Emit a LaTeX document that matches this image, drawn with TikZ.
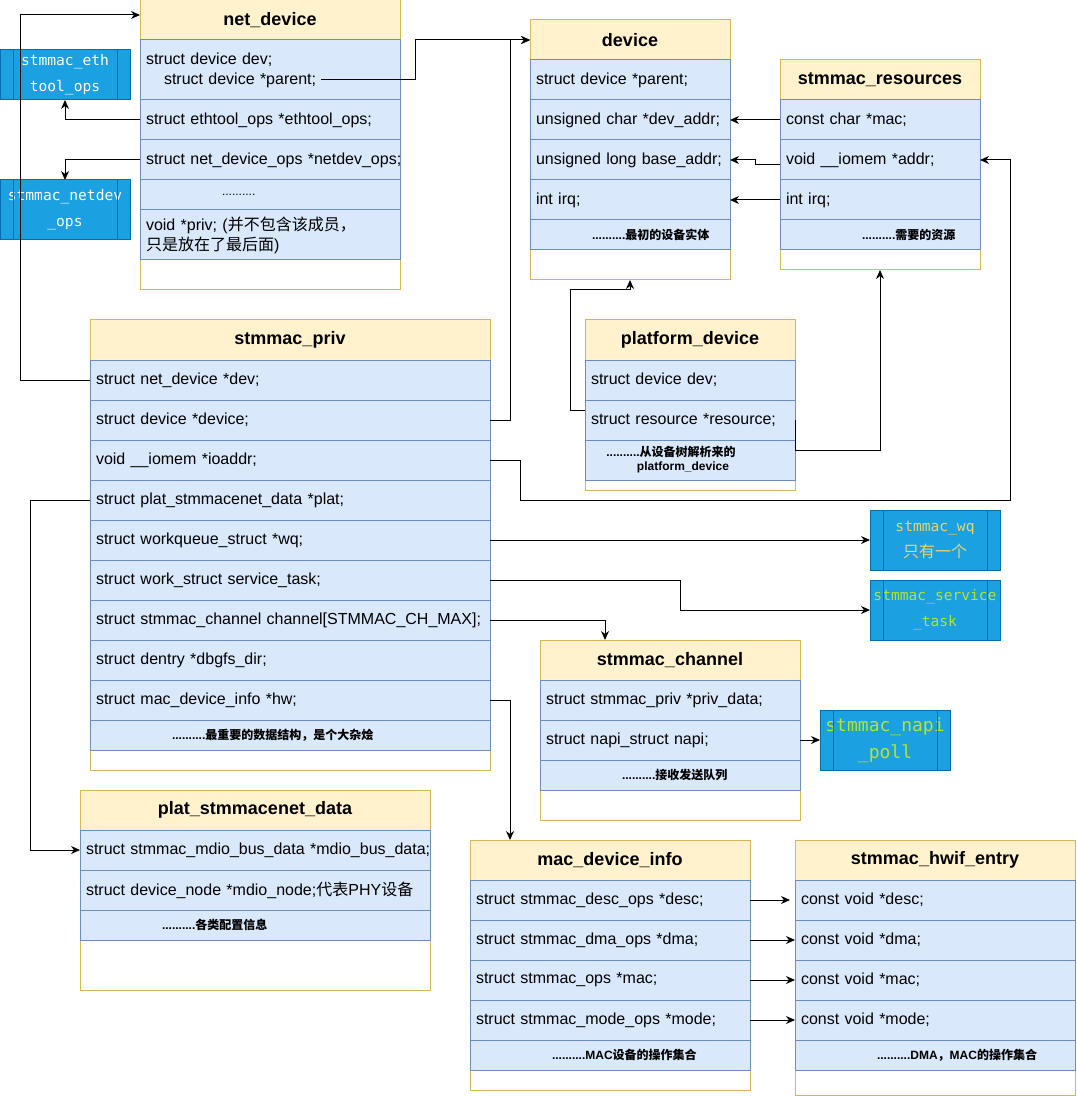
\documentclass[tikz,border=0pt]{standalone}
\usepackage{fontspec}
\setmainfont{Liberation Sans}
\setmonofont{DejaVu Sans Mono}
\newfontfamily\cjk{Noto Sans CJK SC}
\usetikzlibrary{arrows.meta}
\usetikzlibrary{positioning}

\definecolor{hdrfill}{HTML}{FFF2CC}
\definecolor{hdrline}{HTML}{D6B656}
\definecolor{fldfill}{HTML}{DAE8FC}
\definecolor{fldline}{HTML}{6C8EBF}
\definecolor{procfill}{HTML}{1BA1E2}
\definecolor{procline}{HTML}{006EAF}
\definecolor{wqtext}{HTML}{E8D36E}
\definecolor{svctext}{HTML}{B5E32E}

\newcommand{\rowfont}{\fontsize{8}{10}\selectfont}
\newcommand{\hdrfont}{\bfseries\fontsize{9}{11}\selectfont}
\newcommand{\sumfont}{\bfseries\fontsize{6}{7}\selectfont}
\newcommand{\procfont}{\ttfamily\fontsize{7.3}{13}\selectfont}

\tikzset{
  box/.style={draw=hdrline,fill=white,anchor=north west,inner sep=0pt,outer sep=0pt,minimum width=#1},
  hdr/.style={draw=hdrline,fill=hdrfill,anchor=north west,inner sep=0pt,outer sep=0pt,minimum width=#1,minimum height=20pt,font=\hdrfont},
  fld/.style={draw=fldline,fill=fldfill,anchor=north west,inner xsep=3pt,inner ysep=0pt,outer sep=0pt,text width=#1,minimum height=20pt,align=left,font=\rowfont},
  sumfld/.style={fld=#1,minimum height=15pt,font=\sumfont},
  proc/.style={draw=procline,fill=procfill,anchor=north west,inner sep=0pt,outer sep=0pt,minimum width=65pt,align=center,font=\procfont}
}

\begin{document}
\begin{tikzpicture}[x=0.5pt,y=-0.5pt,line width=0.5pt,>={Stealth[length=4.5pt,width=4pt]}]
  \useasboundingbox (0,0) rectangle (1076,1096);

  % net_device
  \node[box=130pt,minimum height=145pt] (ndev) at (140,0) {};
  \node[hdr=130pt] (ndev-h) at (ndev.north west) {net\_device};
  \node[fld=124pt,minimum height=30pt] (ndev-1) at (ndev-h.south west) {struct device dev;\\\hspace*{9pt}struct device *parent;};
  \node[fld=124pt] (ndev-2) at (ndev-1.south west) {struct ethtool\_ops *ethtool\_ops;};
  \node[fld=124pt] (ndev-3) at (ndev-2.south west) {\mbox{struct net\_device\_ops *netdev\_ops;}};
  \node[fld=124pt,minimum height=15pt,font=\fontsize{6}{7}\selectfont] (ndev-4) at (ndev-3.south west) {\hspace*{38pt}..........};
  \node[fld=124pt,minimum height=25pt] (ndev-5) at (ndev-4.south west) {void *priv; ({\cjk 并不包含该成员，}\\{\cjk 只是放在了最后面})};

  % device
  \node[box=100pt,minimum height=130pt] (dev) at (530,20) {};
  \node[hdr=100pt] (dev-h) at (dev.north west) {device};
  \node[fld=94pt] (dev-1) at (dev-h.south west) {struct device *parent;};
  \node[fld=94pt] (dev-2) at (dev-1.south west) {unsigned char *dev\_addr;};
  \node[fld=94pt] (dev-3) at (dev-2.south west) {unsigned long base\_addr;};
  \node[fld=94pt] (dev-4) at (dev-3.south west) {int irq;};
  \node[sumfld=94pt] (dev-5) at (dev-4.south west) {\hspace*{28pt}..........{\cjk 最初的设备实体}};

  % stmmac_resources
  \node[box=100pt,minimum height=105pt] (res) at (780,60) {};
  \node[hdr=100pt] (res-h) at (res.north west) {stmmac\_resources};
  \node[fld=94pt] (res-1) at (res-h.south west) {const char *mac;};
  \node[fld=94pt] (res-2) at (res-1.south west) {void \_\_iomem *addr;};
  \node[fld=94pt] (res-3) at (res-2.south west) {int irq;};
  \node[sumfld=94pt] (res-4) at (res-3.south west) {\hspace*{38pt}..........{\cjk 需要的资源}};

  % stmmac_priv
  \node[box=200pt,minimum height=225pt] (priv) at (90,320) {};
  \node[hdr=200pt] (priv-h) at (priv.north west) {stmmac\_priv};
  \node[fld=194pt] (priv-1) at (priv-h.south west) {struct net\_device *dev;};
  \node[fld=194pt] (priv-2) at (priv-1.south west) {struct device *device;};
  \node[fld=194pt] (priv-3) at (priv-2.south west) {void \_\_iomem *ioaddr;};
  \node[fld=194pt] (priv-4) at (priv-3.south west) {struct plat\_stmmacenet\_data *plat;};
  \node[fld=194pt] (priv-5) at (priv-4.south west) {struct workqueue\_struct *wq;};
  \node[fld=194pt] (priv-6) at (priv-5.south west) {struct work\_struct service\_task;};
  \node[fld=194pt] (priv-7) at (priv-6.south west) {\mbox{struct stmmac\_channel channel[STMMAC\_CH\_MAX];}};
  \node[fld=194pt] (priv-8) at (priv-7.south west) {struct dentry *dbgfs\_dir;};
  \node[fld=194pt] (priv-9) at (priv-8.south west) {struct mac\_device\_info *hw;};
  \node[sumfld=194pt] (priv-10) at (priv-9.south west) {\hspace*{38pt}..........{\cjk 最重要的数据结构，是个大杂烩}};

  % platform_device
  \node[box=105pt,minimum height=85pt] (pdev) at (585,320) {};
  \node[hdr=105pt] (pdev-h) at (pdev.north west) {platform\_device};
  \node[fld=99pt] (pdev-1) at (pdev-h.south west) {struct device dev;};
  \node[fld=99pt] (pdev-2) at (pdev-1.south west) {struct resource *resource;};
  \node[fld=99pt,font=\sumfont,align=center] (pdev-3) at (pdev-2.south west) {\hspace*{-19pt}..........{\cjk 从设备树解析来的}\\\hspace*{-7pt}platform\_device};

  % stmmac_channel
  \node[box=130pt,minimum height=90pt] (chan) at (540,640) {};
  \node[hdr=130pt] (chan-h) at (chan.north west) {stmmac\_channel};
  \node[fld=124pt] (chan-1) at (chan-h.south west) {struct stmmac\_priv *priv\_data;};
  \node[fld=124pt] (chan-2) at (chan-1.south west) {struct napi\_struct napi;};
  \node[sumfld=124pt] (chan-3) at (chan-2.south west) {\hspace*{38pt}..........{\cjk 接收发送队列}};

  % plat_stmmacenet_data
  \node[box=175pt,minimum height=100pt] (plat) at (80,790) {};
  \node[hdr=175pt] (plat-h) at (plat.north west) {plat\_stmmacenet\_data};
  \node[fld=169pt] (plat-1) at (plat-h.south west) {\mbox{struct stmmac\_mdio\_bus\_data *mdio\_bus\_data;}};
  \node[fld=169pt] (plat-2) at (plat-1.south west) {struct device\_node *mdio\_node;{\cjk 代表}PHY{\cjk 设备}};
  \node[sumfld=169pt] (plat-3) at (plat-2.south west) {\hspace*{38pt}..........{\cjk 各类配置信息}};

  % mac_device_info
  \node[box=140pt,minimum height=125pt] (mdi) at (470,840) {};
  \node[hdr=140pt] (mdi-h) at (mdi.north west) {mac\_device\_info};
  \node[fld=134pt] (mdi-1) at (mdi-h.south west) {struct stmmac\_desc\_ops *desc;};
  \node[fld=134pt] (mdi-2) at (mdi-1.south west) {struct stmmac\_dma\_ops *dma;};
  \node[fld=134pt] (mdi-3) at (mdi-2.south west) {struct stmmac\_ops *mac;};
  \node[fld=134pt] (mdi-4) at (mdi-3.south west) {struct stmmac\_mode\_ops *mode;};
  \node[sumfld=134pt] (mdi-5) at (mdi-4.south west) {\hspace*{38pt}..........MAC{\cjk 设备的操作集合}};

  % stmmac_hwif_entry
  \node[box=140pt,minimum height=127.5pt] (hwif) at (795,840) {};
  \node[hdr=140pt] (hwif-h) at (hwif.north west) {stmmac\_hwif\_entry};
  \node[fld=134pt] (hwif-1) at (hwif-h.south west) {const void *desc;};
  \node[fld=134pt] (hwif-2) at (hwif-1.south west) {const void *dma;};
  \node[fld=134pt] (hwif-3) at (hwif-2.south west) {const void *mac;};
  \node[fld=134pt] (hwif-4) at (hwif-3.south west) {const void *mode;};
  \node[sumfld=134pt] (hwif-5) at (hwif-4.south west) {\hspace*{38pt}..........DMA{\cjk ，}MAC{\cjk 的操作集合}};

  % ops and work boxes
  \node[proc,minimum height=25pt,text=white] (eth) at (0,50) {stmmac\_eth\\tool\_ops};
  \node[proc,minimum height=30pt,text=white] (ndo) at (0,180) {stmmac\_netdev\\\_ops};
  \node[proc,minimum height=30pt,text=wqtext] (wq) at (870,510) {stmmac\_wq\\{\cjk\fontsize{8}{13}\selectfont 只有一个}};
  \node[proc,minimum height=30pt,text=svctext] (svc) at (870,580) {stmmac\_service\\\_task};
  \node[proc,minimum height=30pt,text=svctext,font=\ttfamily\fontsize{9}{13.5}\selectfont] (napi) at (820,710) {stmmac\_napi\\\_poll};
  \foreach \p in {eth,ndo,wq,svc,napi}
    \draw[procline] ([xshift=6.5pt]\p.north west) -- ([xshift=6.5pt]\p.south west)
      ([xshift=-6.5pt]\p.north east) -- ([xshift=-6.5pt]\p.south east);

  % links
  \coordinate (parent-end) at (321,80);
  \draw[->] (priv-1.west) -- ++(-70,0) |- ([yshift=-7.5pt]ndev.north west);
  \draw[->] (parent-end) -- ++(94,0) |- (dev-h.west);
  \draw[->] (priv-2.east) -- ++(20,0) |- (dev-h.west);
  \draw[->] (ndev-2.west) -| (eth.south);
  \draw[->] (ndev-3.west) -| (ndo.north);
  \draw[->] (res-1.west) -- (dev-2.east);
  \draw[->] ([yshift=-2.5pt]res-2.west) -- ++(-25,0) |- (dev-3.east);
  \draw[->] (res-3.west) -- (dev-4.east);
  \draw[->] ([yshift=5pt]pdev-2.west) -- ++(-15,0) |- ([yshift=-5pt]dev.south) -- (dev.south);
  \draw[->] (pdev-2.east) -- ++(0,30) -| (res.south);
  \draw[->] (priv-3.east) -- ++(30,0) -- ++(0,40) -- ++(490,0) |- (res-2.east);
  \draw[->] (priv-5.east) -- (wq.west);
  \draw[->] (priv-6.east) -- ++(190,0) |- (svc.west);
  \draw[->] (priv-7.east) -| ([xshift=-32.5pt]chan.north);
  \draw[->] (priv-9.east) -| ([xshift=20pt]mdi.north west);
  \draw[->] (priv-4.west) -- ++(-60,0) |- (plat-1.west);
  \draw[->] (chan-2.east) -- (napi.west);
  \draw[->] (mdi-1.east) -- ([xshift=-2.5pt]hwif-1.west);
  \foreach \i in {2,3,4}
    \draw[->] (mdi-\i.east) -- (hwif-\i.west);
\end{tikzpicture}
\end{document}
